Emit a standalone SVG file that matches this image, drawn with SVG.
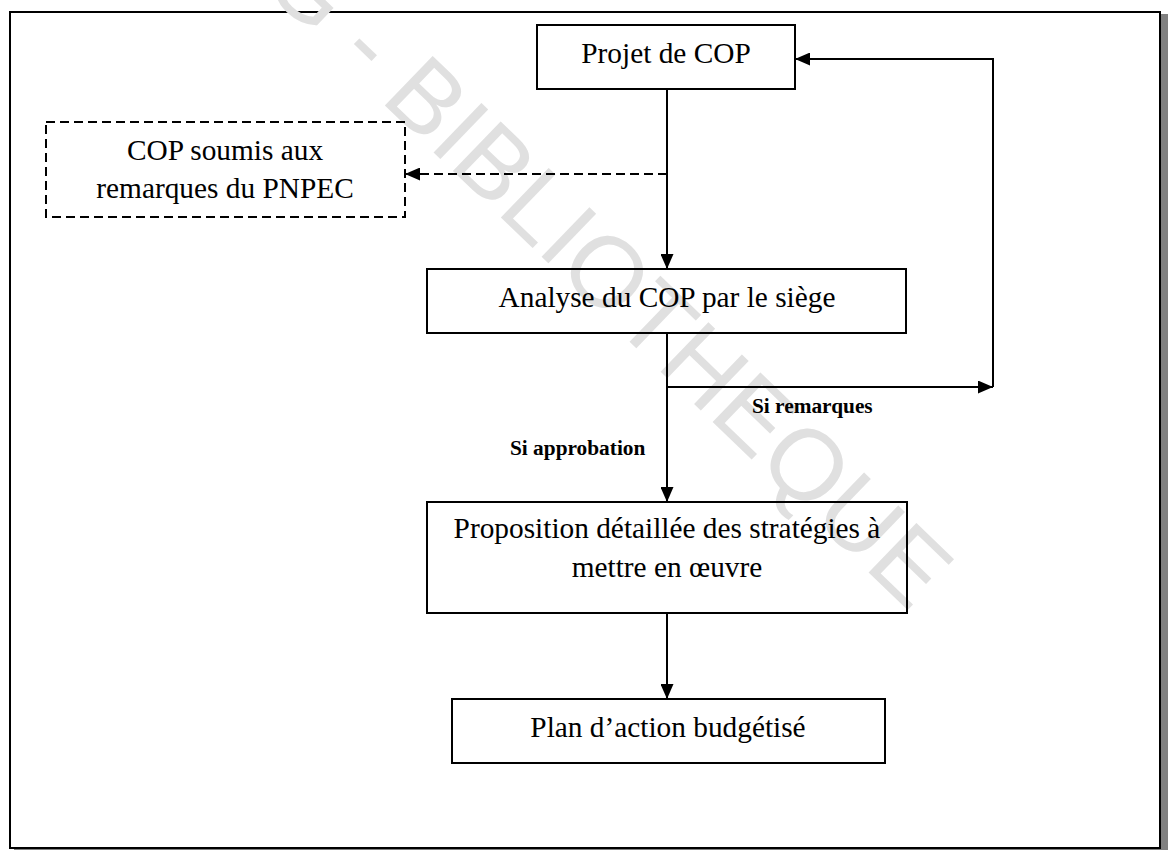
<svg xmlns="http://www.w3.org/2000/svg" width="1168" height="850" viewBox="0 0 1168 850">
<style>
.box{fill:none;stroke:#000;stroke-width:2}
.dash{fill:none;stroke:#000;stroke-width:2;stroke-dasharray:9 5}
.ln{fill:none;stroke:#000;stroke-width:2}
.t{font-family:"Liberation Serif","Times New Roman",serif;font-size:29.33px;fill:#000;text-anchor:middle}
.lb{font-family:"Liberation Serif","Times New Roman",serif;font-size:21.33px;font-weight:bold;fill:#000}
.wm{font-family:"Liberation Sans",Arial,sans-serif;font-size:100px;fill:#e0e0e0}
</style>
<defs>
<marker id="ah" viewBox="0 0 15 13" refX="15" refY="6.5" markerWidth="15" markerHeight="13" markerUnits="userSpaceOnUse" orient="auto">
<path d="M0,0 L15,6.5 L0,13 Z" fill="#000" stroke="none"/>
</marker>
</defs>
<rect x="0" y="0" width="1168" height="850" fill="#fff"/>
<rect x="14" y="14" width="1154" height="836" fill="#808080"/>
<rect x="10" y="12" width="1150" height="836" fill="#fff" stroke="#000" stroke-width="2"/>
<text class="wm" transform="translate(428,97) rotate(44)" x="-200" y="36">G - BIBLIOTHEQUE</text>
<g id="connectors">
<line class="ln" x1="667" y1="89" x2="667" y2="269" marker-end="url(#ah)"/>
<line class="dash" x1="667" y1="174" x2="405" y2="174" marker-end="url(#ah)"/>
<line class="ln" x1="667" y1="333" x2="667" y2="502" marker-end="url(#ah)"/>
<line class="ln" x1="667" y1="387" x2="993" y2="387" marker-end="url(#ah)"/>
<polyline class="ln" points="993,387 993,59 795,59" marker-end="url(#ah)"/>
<line class="ln" x1="667" y1="613" x2="667" y2="699" marker-end="url(#ah)"/>
<text class="lb" x="752" y="413">Si remarques</text>
<text class="lb" x="510" y="455">Si approbation</text>
</g>
<g id="projet">
<rect class="box" x="537" y="25" width="258" height="64"/>
<text class="t" x="666" y="63">Projet de COP</text>
</g>
<g id="soumis">
<rect class="dash" x="46" y="122" width="359" height="95"/>
<text class="t" x="225" y="160">COP soumis aux</text>
<text class="t" x="225" y="198">remarques du PNPEC</text>
</g>
<g id="analyse">
<rect class="box" x="427" y="269" width="479" height="64"/>
<text class="t" x="667" y="307">Analyse du COP par le siège</text>
</g>
<g id="proposition">
<rect class="box" x="427" y="502" width="480" height="111"/>
<text class="t" x="667" y="538">Proposition détaillée des stratégies à</text>
<text class="t" x="667" y="577">mettre en œuvre</text>
</g>
<g id="plan">
<rect class="box" x="452" y="699" width="433" height="64"/>
<text class="t" x="668" y="737">Plan d’action budgétisé</text>
</g>
</svg>
